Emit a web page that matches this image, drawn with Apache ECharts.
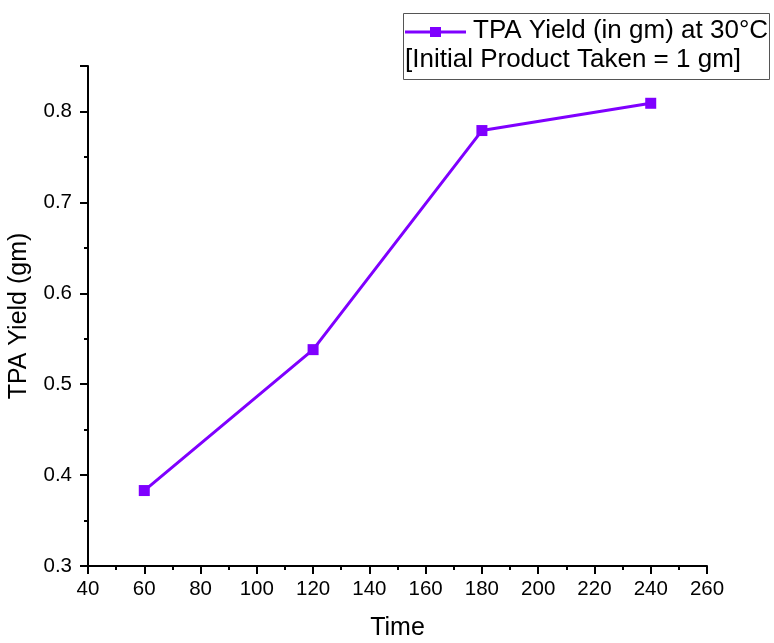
<!DOCTYPE html>
<html><head><meta charset="utf-8">
<script src="https://cdn.jsdelivr.net/npm/echarts@6/dist/echarts.min.js"></script>
<style>html,body{margin:0;padding:0;background:#fff}#c{width:774px;height:643px}</style>
</head><body><div id="c"></div>
<script>
const times = [60, 120, 180, 240];
const yields = [0.383, 0.538, 0.779, 0.809];
const seriesName = 'TPA Yield (in gm) at 30°C';
const legendLine2 = '[Initial Product Taken = 1 gm]';
const purple = '#7F00FF';
const font = 'Liberation Sans, Arial, sans-serif';
const chart = echarts.init(document.getElementById('c'));
chart.setOption({
  animation: false,
  backgroundColor: '#fff',
  grid: {left: 88, right: 67, top: 66, bottom: 77, containLabel: false, outerBoundsMode: 'none'},
  xAxis: {
    type: 'value', min: 40, max: 260, interval: 20,
    name: 'Time', nameLocation: 'middle', nameGap: 50,
    nameTextStyle: {fontSize: 25, color: '#000', fontFamily: font},
    axisLine: {lineStyle: {color: '#000', width: 2}},
    axisTick: {inside: false, length: 8, lineStyle: {color: '#000', width: 2}},
    minorTick: {show: true, splitNumber: 2, length: 4, lineStyle: {color: '#000', width: 2}},
    splitLine: {show: false},
    axisLabel: {fontSize: 20.5, color: '#000', fontFamily: font, margin: 13}
  },
  yAxis: {
    type: 'value', min: 0.3, max: 0.85, interval: 0.1,
    name: 'TPA Yield (gm)', nameLocation: 'middle', nameGap: 56,
    nameTextStyle: {fontSize: 25, color: '#000', fontFamily: font},
    axisLine: {show: true, lineStyle: {color: '#000', width: 2}},
    axisTick: {show: true, inside: false, length: 8, lineStyle: {color: '#000', width: 2}},
    minorTick: {show: true, splitNumber: 2, length: 4, lineStyle: {color: '#000', width: 2}},
    splitLine: {show: false},
    axisLabel: {fontSize: 20.5, color: '#000', fontFamily: font, margin: 16,
      showMaxLabel: false, formatter: v => v.toFixed(1)}
  },
  graphic: [
    {type: 'rect', shape: {x: 403.5, y: 13.5, width: 366, height: 66},
     style: {fill: 'none', stroke: '#555', lineWidth: 1}},
    {type: 'line', shape: {x1: 405, y1: 32, x2: 466, y2: 32},
     style: {stroke: purple, lineWidth: 3}},
    {type: 'rect', shape: {x: 430, y: 27, width: 11, height: 10},
     style: {fill: purple}},
    {type: 'text', x: 473, y: 31,
     style: {text: seriesName, fontSize: 26, fill: '#000', fontFamily: font, verticalAlign: 'middle'}},
    {type: 'text', x: 405, y: 60,
     style: {text: legendLine2, fontSize: 26, fill: '#000', fontFamily: font, verticalAlign: 'middle'}}
  ],
  series: [{
    name: seriesName, type: 'line',
    data: times.map((t, i) => [t, yields[i]]),
    symbol: 'rect', symbolSize: 11,
    lineStyle: {color: purple, width: 3},
    itemStyle: {color: purple}
  }]
});
</script></body></html>
